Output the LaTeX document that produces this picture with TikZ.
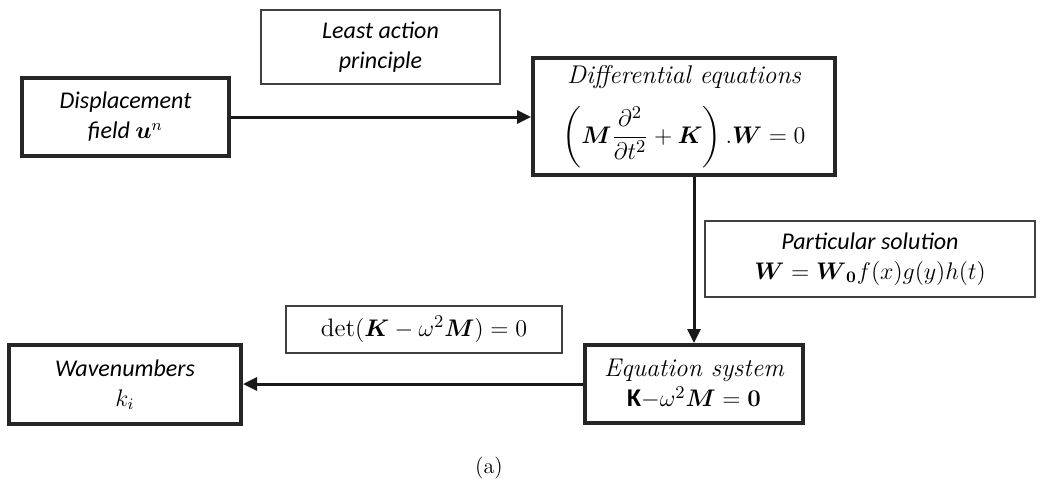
\documentclass[tikz,border=0pt]{standalone}
\usepackage{amsmath}
\usepackage{amssymb}
\usepackage{fontspec}
\newfontfamily\calibfont{Carlito}
\usetikzlibrary{arrows.meta, positioning, calc}

\tikzset{
  thickbox/.style={rectangle, draw=black!85, line width=2pt, fill=white,
                   align=center, inner sep=0pt},
  thinbox/.style={rectangle, draw=black!75, line width=0.7pt, fill=white,
                  align=center, inner sep=0pt},
  flow/.style={line width=1.5pt, draw=black!90,
               -{Triangle[length=7pt, width=6.5pt]}},
  sanstext/.style={font=\calibfont\itshape\fontsize{12}{15}\selectfont},
  seriftext/.style={font=\itshape\fontsize{12.8}{15}\selectfont},
}

\begin{document}
\begin{tikzpicture}[x=0.5pt, y=-0.5pt]
    \useasboundingbox (0,0) rectangle (1043,484);

    \node[thickbox, sanstext, minimum width=103.5pt, minimum height=39pt]
         (disp) at (125.5,117) {Displacement\\field $\boldsymbol{u}^n$};
    \node[thinbox, sanstext, minimum width=119.5pt, minimum height=37pt]
         (least) at (380.5,47) {Least action\\principle};
    \node[thickbox, seriftext, minimum width=151pt, minimum height=58.5pt]
         (diffeq) at (684,116.5)
         {Differential equations\\[8pt]
          $\displaystyle\left(\boldsymbol{M}\frac{\partial^2}{\partial t^2}
           +\boldsymbol{K}\right).\boldsymbol{W}=0$};
    \node[thinbox, sanstext, minimum width=165pt, minimum height=38pt]
         (part) at (870,259)
         {Particular solution\\
          $\boldsymbol{W}=\boldsymbol{W}_{\boldsymbol{0}}f(x)g(y)h(t)$};
    \node[thinbox, font=\fontsize{12.6}{15}\selectfont,
          minimum width=138pt, minimum height=23.5pt]
         (det) at (424,329.5)
         {$\det(\boldsymbol{K}-\omega^2\boldsymbol{M})=0$};
    \node[thickbox, seriftext, minimum width=109pt, minimum height=39pt]
         (eqsys) at (694,384)
         {Equation system\\
          {\upshape\calibfont\bfseries K}$-\omega^2\boldsymbol{M}=\boldsymbol{0}$};
    \node[thickbox, sanstext, minimum width=116pt, minimum height=39.5pt]
         (wave) at (125,384.5) {Wavenumbers\\$k_i$};

    \node[font=\fontsize{11}{13}\selectfont] (cap) at (489,468) {(a)};

    % connectors
    \draw[flow] (disp.east) -- (disp.east -| diffeq.west);
    \draw[flow] (eqsys.north |- diffeq.south) -- (eqsys.north);
    \draw[flow] (eqsys.west) -- (eqsys.west -| wave.east);
\end{tikzpicture}
\end{document}
